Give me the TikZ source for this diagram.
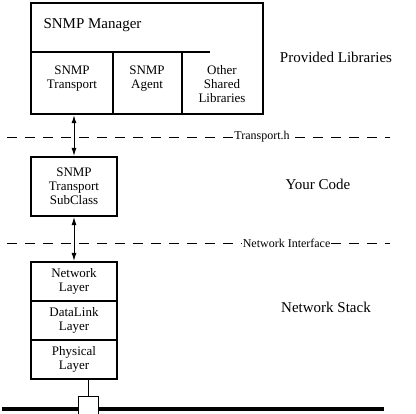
\documentclass[tikz,border=0pt]{standalone}
\usepackage{fontspec}
\setmainfont{Liberation Serif}
\usetikzlibrary{arrows.meta}

\begin{document}
\begin{tikzpicture}[x=1pt,y=-1pt,
    box/.style={draw, line width=2.2pt, minimum width=86pt, inner sep=0pt},
    lbl/.style={font=\fontsize{13}{14}\selectfont, align=center},
    big/.style={font=\fontsize{15}{17}\selectfont},
    link/.style={{Latex[length=8pt,width=5pt]}-{Latex[length=8pt,width=5pt]}, line width=1pt},
    sep/.style={dash pattern=on 10pt off 8pt, line width=0.8pt}]
    \useasboundingbox (0,0) rectangle (416,414);

    % provided libraries
    \node[box, minimum width=232pt, minimum height=111pt, anchor=north west] (lib) at (30,2) {};
    \draw[line width=2.2pt] (lib.west |- 0,52) -- (210,52);
    \draw[line width=2.2pt] (113,52) -- (113,113);
    \draw[line width=2.2pt] (182,52) -- (182,113);
    \node[big, anchor=west] (manager) at (40,25) {SNMP Manager};
    \node[lbl] (transport) at (72,79) {SNMP\\Transport};
    \node[lbl] (agent) at (147,79) {SNMP\\Agent};
    \node[lbl] (others) at (222,84) {Other\\Shared\\Libraries};

    % your code
    \node[box, lbl, minimum height=59pt] (subclass) at (74,186.5) {SNMP\\Transport\\SubClass};

    % network stack
    \node[box, lbl, minimum height=39pt] (network) at (74,281.5) {Network\\Layer};
    \node[box, lbl, minimum height=39pt] (datalink) at (74,320.5) {DataLink\\Layer};
    \node[box, lbl, minimum height=39pt] (physical) at (74,359.5) {Physical\\Layer};

    \draw[link] (lib.south -| subclass) -- (subclass.north);
    \draw[link] (subclass.south) -- (network.north);

    % interfaces
    \draw[sep] (7,137) -- (390,137) node[pos=0.666, fill=white, inner sep=1pt, font=\fontsize{12}{14}\selectfont] (th) {Transport.h};
    \draw[sep] (7,243) -- (390,243) node[pos=0.73, fill=white, inner sep=1pt, font=\fontsize{12}{14}\selectfont] (ni) {Network Interface};

    % wire
    \draw[line width=4pt] (2,409) -- (384,409);
    \node[draw, fill=white, line width=1pt, minimum width=20pt, minimum height=21pt, inner sep=0pt] (tap) at (88,407.5) {};
    \draw[line width=1pt] (physical.south -| tap) -- (tap.north);

    \node[big] (provided) at (336,57) {Provided Libraries};
    \node[big] (yours) at (318,184) {Your Code};
    \node[big] (stack) at (326,307) {Network Stack};
\end{tikzpicture}
\end{document}
